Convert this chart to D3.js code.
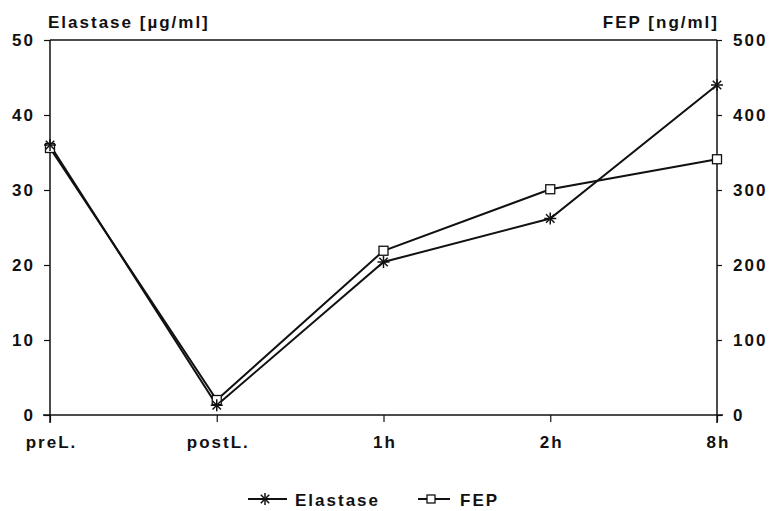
<!DOCTYPE html>
<html><head><meta charset="utf-8">
<script src="https://cdn.jsdelivr.net/npm/d3@7"></script>
<style>body{margin:0;background:#fff}svg{display:block}text{font-family:"Liberation Sans",Arial,sans-serif;font-weight:bold;fill:#111;letter-spacing:2px}</style>
</head><body>
<script>
const categories = ["preL.", "postL.", "1h", "2h", "8h"];
const elastase = [36, 1.3, 20.4, 26.2, 44];
const fep = [356, 20, 219, 301, 341];
const leftTicks = [0, 10, 20, 30, 40, 50];
const rightTicks = [0, 100, 200, 300, 400, 500];

const W = 772, H = 511;
const L = 50, R = 717, T = 40, B = 415;
const svg = d3.select("body").append("svg").attr("width", W).attr("height", H);
const x = d3.scalePoint().domain(categories).range([L, R]);
const yL = d3.scaleLinear().domain([0, 50]).range([B, T]);
const yR = d3.scaleLinear().domain([0, 500]).range([B, T]);
const ink = "#111";
const FONT = '"Liberation Sans",Arial,sans-serif';

// frame top
svg.append("line").attr("x1", L).attr("x2", R).attr("y1", T).attr("y2", T).attr("stroke", ink).attr("stroke-width", 1.5);
const gl = svg.append("g").attr("transform", `translate(${L},0)`)
  .call(d3.axisLeft(yL).tickValues(leftTicks).tickSize(6).tickPadding(9));
const gr = svg.append("g").attr("transform", `translate(${R},0)`)
  .call(d3.axisRight(yR).tickValues(rightTicks).tickSize(5).tickPadding(11));
const gb = svg.append("g").attr("transform", `translate(0,${B})`)
  .call(d3.axisBottom(x).tickSize(7).tickPadding(0));
[gl, gr, gb].forEach(g => {
  g.selectAll(".domain").attr("stroke", ink).attr("stroke-width", 1.5);
  g.selectAll(".tick line").attr("stroke", ink).attr("stroke-width", 1.2);
  g.selectAll("text").attr("font-size", 17).attr("font-family", FONT).attr("font-weight", "bold").attr("fill", ink);
});
gl.select(".domain").attr("d", `M0,${T}V${B + 8}`);
gr.select(".domain").attr("d", `M0,${T}V${B + 8}`);
gb.select(".domain").attr("d", `M${L - 7},0H${R + 6}`);
gb.selectAll("text").attr("y", 33).attr("dy", 0).attr("dx", 1);

// axis titles
svg.append("text").attr("x", 48).attr("y", 28).attr("font-size", 17).text("Elastase [µg/ml]");
svg.append("text").attr("x", R + 2).attr("y", 28).attr("font-size", 17).attr("text-anchor", "end").text("FEP [ng/ml]");

// lines
const lineE = d3.line().x((d, i) => x(categories[i])).y(d => yL(d));
const lineF = d3.line().x((d, i) => x(categories[i])).y(d => yR(d));
svg.append("path").attr("d", lineE(elastase)).attr("fill", "none").attr("stroke", ink).attr("stroke-width", 2);
svg.append("path").attr("d", lineF(fep)).attr("fill", "none").attr("stroke", ink).attr("stroke-width", 2);

function star(g, cx, cy, r) {
  const s = g.append("g").attr("transform", `translate(${cx},${cy})`).attr("stroke", ink).attr("stroke-width", 1.5);
  for (let k = 0; k < 4; k++) {
    const a = k * Math.PI / 4;
    s.append("line").attr("x1", -r * Math.cos(a)).attr("y1", -r * Math.sin(a)).attr("x2", r * Math.cos(a)).attr("y2", r * Math.sin(a));
  }
}
function square(g, cx, cy, s) {
  g.append("rect").attr("x", cx - s / 2).attr("y", cy - s / 2).attr("width", s).attr("height", s).attr("fill", "#fff").attr("stroke", ink).attr("stroke-width", 1.3);
}
fep.forEach((d, i) => square(svg, x(categories[i]), yR(d), 9));
elastase.forEach((d, i) => star(svg, x(categories[i]), yL(d), 6));

// legend
const ly = 499;
svg.append("line").attr("x1", 248).attr("x2", 287).attr("y1", ly).attr("y2", ly).attr("stroke", ink).attr("stroke-width", 2);
star(svg, 265, ly, 6);
svg.append("text").attr("x", 295).attr("y", 506).attr("font-size", 17).text("Elastase");
svg.append("line").attr("x1", 418).attr("x2", 450).attr("y1", ly).attr("y2", ly).attr("stroke", ink).attr("stroke-width", 2);
square(svg, 431, ly, 8);
svg.append("text").attr("x", 460).attr("y", 506).attr("font-size", 17).text("FEP");
</script>
</body></html>
